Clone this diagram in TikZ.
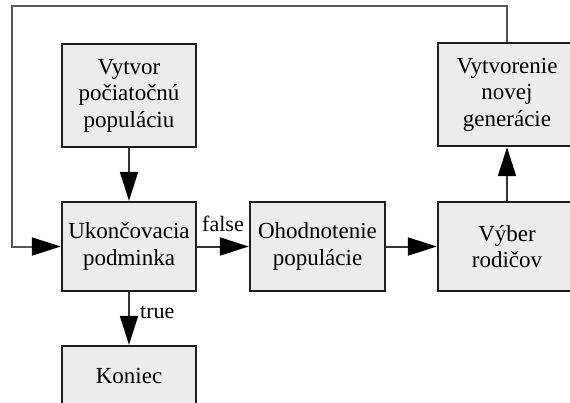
\documentclass[tikz,border=0pt]{standalone}
\usepackage{fontspec}
\setmainfont{Liberation Serif}
\usetikzlibrary{arrows.meta}
\definecolor{boxfill}{HTML}{ECECEC}
\definecolor{edge}{HTML}{1E1E1E}
\definecolor{wire}{HTML}{333333}
\definecolor{loopwire}{HTML}{555555}
\begin{document}
\begin{tikzpicture}[x=1pt,y=-1pt,
  stepbox/.style={draw=edge, fill=boxfill, line width=2.4pt, align=center,
    inner sep=0pt, font=\fontsize{23}{26.5}\selectfont},
  flow/.style={draw=wire, line width=2pt,
    -{Triangle[length=29pt,width=18pt,color=black]}},
  loopflow/.style={flow, draw=loopwire},
  lbl/.style={font=\fontsize{22}{26}\selectfont, inner sep=0pt}]
\useasboundingbox (0,0) rectangle (570,402);
\clip (0,0) rectangle (570,402);

% boxes
\node[stepbox, minimum width=134pt, minimum height=103pt] (start) at (129,95.5)
  {Vytvor\\počiatočnú\\populáciu};
\node[stepbox, minimum width=134pt, minimum height=89pt] (cond) at (129,246.5)
  {Ukončovacia\\podminka};
\node[stepbox, minimum width=134pt, minimum height=60pt] (end) at (129,376)
  {Koniec};
\node[stepbox, minimum width=135pt, minimum height=89pt] (eval) at (317.5,246.5)
  {Ohodnotenie\\populácie};
\node[stepbox, minimum width=138pt, minimum height=89pt] (sel) at (507,246.5)
  {Výber\\rodičov};
\node[stepbox, minimum width=138pt, minimum height=103pt] (gen) at (507,94.5)
  {Vytvorenie\\novej\\generácie};

% connectors
\draw[flow] (start) -- (cond);
\draw[flow] (cond) -- (end);
\draw[flow] (cond) -- (eval);
\draw[flow] (eval) -- (sel);
\draw[flow] (sel) -- (gen);

% loop back to the termination test
\coordinate (topright) at (507,6);
\coordinate (topleft) at (12,6);
\coordinate (loopin) at (12,246.5);
\draw[loopflow] (gen.north) -- (topright) -- (topleft) -- (loopin) -- (cond.west);

% branch labels
\node[lbl, anchor=base] (flabel) at (223,231) {false};
\node[lbl, anchor=base west] (tlabel) at (140,318) {true};
\end{tikzpicture}
\end{document}
